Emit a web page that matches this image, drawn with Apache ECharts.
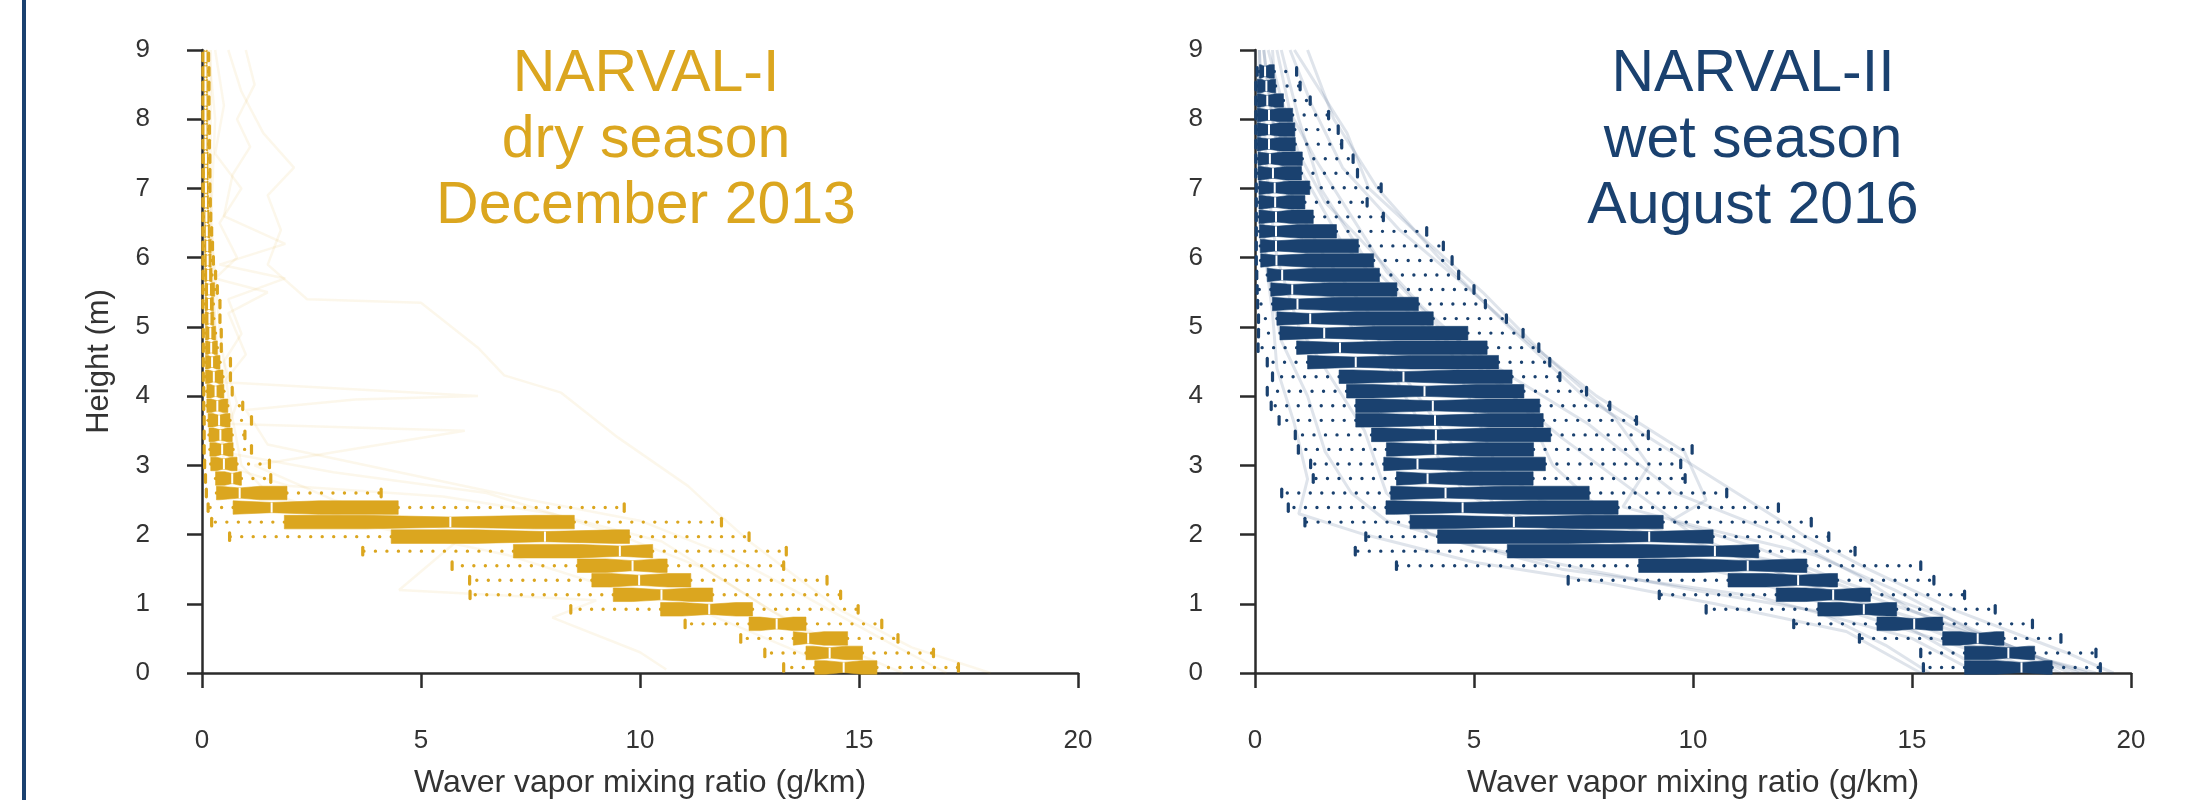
<!DOCTYPE html>
<html>
<head>
<meta charset="utf-8">
<script src="https://cdn.jsdelivr.net/npm/echarts@6/dist/echarts.min.js"></script>
<style>
html,body{margin:0;padding:0;background:#fff;}
#chart{width:2189px;height:800px;}
</style>
</head>
<body>
<div id="chart"></div>
<script>
// ---------- DATA ----------
const heights = [0.08,0.29,0.50,0.71,0.92,1.13,1.34,1.55,1.76,1.97,2.18,2.39,2.60,2.81,3.02,3.23,3.44,3.65,3.86,4.07,4.28,4.49,4.70,4.91,5.12,5.33,5.54,5.75,5.96,6.17,6.38,6.59,6.80,7.01,7.22,7.43,7.64,7.85,8.06,8.27,8.48,8.69,8.90];
const xTicks = [0,5,10,15,20];
const yTicks = [0,1,2,3,4,5,6,7,8,9];

// NARVAL-I (dry season) per height bin
const n1Low = [13.28,12.85,12.3,11.03,8.42,6.12,6.11,5.71,3.67,0.63,0.22,0.14,0.10,0.08,0.06,0.05,0.05,0.05,0.04,0.04,0.03,0.03,0.03,0.03,0.03,0.02,0.02,0.02,0.02,0.02,0.02,0.02,0.02,0.02,0.02,0.02,0.02,0.02,0.02,0.02,0.02,0.02,0.02];
const n1Q1  = [13.99,13.79,13.5,12.49,10.47,9.39,8.9,8.57,7.11,4.32,1.88,0.71,0.33,0.31,0.20,0.18,0.16,0.14,0.11,0.11,0.08,0.08,0.08,0.08,0.07,0.07,0.07,0.06,0.06,0.06,0.06,0.06,0.05,0.05,0.05,0.05,0.05,0.05,0.05,0.05,0.05,0.05,0.05];
const n1Med = [14.65,14.33,13.84,13.12,11.58,10.49,9.98,9.83,9.54,7.83,5.67,1.59,0.86,0.69,0.50,0.46,0.42,0.39,0.35,0.31,0.27,0.23,0.21,0.19,0.17,0.16,0.16,0.14,0.13,0.12,0.11,0.10,0.09,0.09,0.09,0.09,0.08,0.08,0.08,0.08,0.08,0.08,0.08];
const n1Q3  = [15.41,15.08,14.74,13.79,12.57,11.66,11.16,10.62,10.29,9.76,8.5,4.48,1.94,0.90,0.80,0.71,0.69,0.64,0.59,0.50,0.48,0.41,0.35,0.31,0.27,0.26,0.29,0.23,0.21,0.21,0.18,0.16,0.15,0.14,0.14,0.14,0.13,0.13,0.13,0.13,0.13,0.12,0.12];
const n1High= [17.27,16.7,15.89,15.52,14.98,14.58,14.27,13.28,13.34,12.49,11.86,9.64,4.09,1.57,1.54,1.13,0.98,1.13,0.93,0.69,0.65,0.65,0.44,0.44,0.41,0.41,0.35,0.31,0.26,0.24,0.22,0.20,0.19,0.18,0.18,0.18,0.17,0.17,0.16,0.16,0.16,0.16,0.15];

// NARVAL-II (wet season) per height bin
const n2Low = [15.26,15.2,13.8,12.3,10.3,9.23,7.15,3.23,2.29,2.53,1.14,0.76,0.61,1.33,1.27,0.99,0.92,0.55,0.37,0.28,0.40,0.28,0.07,0.08,0.08,0.06,0.05,0.04,0.03,0.03,0.03,0.03,0.03,0.03,0.02,0.02,0.02,0.02,0.02,0.02,0.02,0.05];
const n2Q1  = [16.2,16.2,15.7,14.2,12.85,11.9,10.8,8.76,5.76,4.17,3.54,2.99,3.10,3.23,2.94,3.00,2.66,2.30,2.30,2.09,1.92,1.20,0.95,0.57,0.50,0.40,0.36,0.28,0.13,0.12,0.10,0.09,0.09,0.09,0.07,0.07,0.05,0.05,0.05,0.05,0.05,0.10];
const n2Med = [17.5,17.2,16.5,15.05,13.9,13.2,12.4,11.25,10.5,9.0,5.91,4.74,4.35,3.94,3.71,4.12,4.13,4.11,4.06,3.87,3.39,2.30,1.94,1.58,1.26,0.97,0.85,0.62,0.49,0.48,0.48,0.48,0.46,0.45,0.41,0.34,0.32,0.32,0.32,0.28,0.26,0.23];
const n2Q3  = [18.2,17.8,17.1,15.7,14.65,14.05,13.3,12.6,11.5,10.46,9.32,8.29,7.63,6.35,6.63,6.36,6.75,6.58,6.50,6.14,5.87,5.56,5.30,4.86,4.07,3.73,3.24,2.84,2.71,2.36,1.86,1.33,1.14,1.25,1.06,1.08,0.92,0.91,0.86,0.65,0.47,0.44];
const n2High= [19.3,19.2,18.4,17.75,16.9,16.2,15.5,15.2,13.7,13.1,12.7,11.95,10.77,9.82,9.72,9.98,8.98,8.71,8.10,7.57,6.96,6.73,6.48,6.12,5.74,5.26,5.00,4.65,4.50,4.30,3.92,2.93,2.56,2.88,2.34,2.24,1.98,1.90,1.68,1.26,1.03,0.95];

// Individual profiles (faint background lines), [mixing ratio, height]
const n1Profiles = [
  [[0.6,9.0],[0.9,8.4],[1.4,7.8],[2.1,7.3],[1.5,6.9],[1.8,6.4],[1.5,5.9],[2.4,5.4],[5.0,5.35],[6.3,4.7],[6.9,4.3],[8.2,4.05],[9.5,3.4],[11.1,2.7],[11.7,2.35],[12.5,1.9],[14.6,0.9],[16.2,0.37],[18.0,0.0]],
  [[0.3,9.0],[0.5,8.2],[0.3,7.5],[0.9,7.0],[0.4,6.5],[0.8,6.0],[0.3,5.7],[1.5,5.5],[0.6,5.2],[1.0,4.6],[0.5,4.2],[6.3,4.0],[3.5,3.95],[1.0,3.8],[1.5,3.3],[4.5,2.9],[7.5,2.5],[10.0,2.2],[12.0,1.7],[13.5,1.2],[15.5,0.5],[17.0,0.0]],
  [[1.0,9.0],[1.2,8.5],[0.8,8.0],[1.1,7.6],[0.7,7.2],[0.5,6.6],[1.9,6.2],[0.4,5.9],[1.9,5.7],[0.6,5.4],[0.9,4.9],[0.5,4.5],[0.8,3.9],[0.4,3.2],[3.0,2.9],[6.5,2.6],[9.5,2.0],[11.5,1.5],[13.0,0.9],[14.5,0.4],[16.0,0.0]],
  [[0.2,9.0],[0.2,7.0],[0.3,5.0],[0.5,3.6],[6.0,3.5],[1.2,3.0],[3.0,2.5],[6.0,2.0],[4.5,1.2],[9.0,1.05],[8.0,0.8],[10.0,0.3],[10.6,0.05]],
  [[0.1,9.0],[0.2,6.0],[0.5,3.0],[2.0,2.7],[5.5,2.55],[8.0,2.3],[10.5,1.9],[12.0,1.3],[13.5,0.7],[15.0,0.2],[15.5,0.0]],
  [[0.15,9.0],[0.3,8.0],[0.2,6.5],[0.4,5.0],[0.6,4.0],[0.9,3.0],[1.5,2.6],[4.0,2.1],[7.0,1.7],[9.0,1.3],[11.0,1.0],[12.5,0.6],[14.0,0.2],[14.5,0.0]]
];
const n2Profiles = [
  [[0.6,9.0],[1.0,8.0],[1.5,7.0],[2.5,6.0],[4.0,5.0],[5.5,4.2],[7.0,3.4],[8.5,2.7],[10.0,2.0],[12.5,1.3],[15.5,0.7],[17.5,0.3],[19.0,0.0]],
  [[0.2,9.0],[0.4,8.0],[0.7,7.0],[1.2,6.0],[2.2,5.0],[3.5,4.2],[4.5,3.3],[5.5,2.4],[7.5,1.9],[11.0,1.4],[14.0,0.8],[16.5,0.3],[17.8,0.0]],
  [[0.1,9.0],[0.2,8.0],[0.3,7.0],[0.5,6.0],[1.0,5.0],[1.8,4.2],[2.5,3.5],[3.0,2.6],[4.0,2.0],[7.0,1.5],[11.5,1.1],[15.0,0.5],[16.5,0.0]],
  [[1.2,9.0],[1.8,8.0],[2.8,7.0],[4.2,6.0],[5.8,5.0],[7.5,4.0],[9.5,3.2],[11.0,2.6],[12.5,2.0],[14.0,1.5],[16.0,0.9],[18.5,0.3],[19.6,0.0]],
  [[0.3,9.0],[0.6,8.3],[1.0,7.5],[1.6,6.8],[2.8,6.0],[3.8,5.3],[5.0,4.6],[6.2,3.8],[6.8,3.0],[8.0,2.3],[10.5,1.8],[13.0,1.2],[15.5,0.6],[18.0,0.0]],
  [[0.1,9.0],[0.1,7.5],[0.2,6.2],[0.4,5.2],[0.5,4.4],[0.9,3.6],[1.2,2.8],[1.0,2.3],[2.5,2.0],[5.0,1.6],[8.0,1.3],[10.5,1.0],[13.5,0.6],[15.2,0.0]],
  [[0.8,9.0],[1.3,8.2],[2.0,7.3],[3.3,6.4],[4.8,5.6],[6.2,4.8],[7.8,4.0],[9.8,3.2],[10.3,2.5],[9.5,2.2],[11.5,1.8],[13.5,1.3],[15.8,0.8],[17.2,0.4],[18.6,0.0]],
  [[0.4,9.0],[0.5,8.0],[1.1,7.2],[2.0,6.2],[3.2,5.4],[4.5,4.6],[5.0,3.8],[5.5,3.0],[6.5,2.5],[9.0,2.0],[12.0,1.6],[14.5,1.0],[16.8,0.5],[18.8,0.0]],
  [[0.5,9.0],[0.8,8.1],[1.4,7.4],[2.2,6.6],[3.0,5.8],[4.2,5.0],[5.8,4.3],[7.6,3.6],[8.8,3.0],[9.6,2.6],[12.0,2.0],[13.8,1.4],[15.0,0.9],[17.0,0.4],[18.4,0.0]],
  [[0.2,9.0],[0.3,8.4],[0.5,7.6],[0.9,6.8],[1.6,6.0],[2.6,5.2],[3.0,4.5],[3.6,3.8],[4.2,3.1],[4.8,2.6],[6.0,2.2],[9.5,1.7],[12.5,1.2],[14.8,0.7],[16.2,0.2],[16.8,0.0]],
  [[0.9,9.0],[1.4,8.5],[2.1,7.8],[2.6,7.0],[3.8,6.3],[5.2,5.5],[6.6,4.6],[8.2,3.7],[9.0,3.0],[8.4,2.4],[10.2,2.1],[12.8,1.7],[14.6,1.2],[16.4,0.6],[18.0,0.2],[19.2,0.0]],
  [[0.0,9.0],[0.1,8.0],[0.1,7.0],[0.3,5.8],[0.6,4.8],[1.2,4.0],[1.6,3.2],[2.2,2.6],[3.0,2.2],[4.6,1.9],[7.5,1.5],[10.0,1.2],[12.8,0.9],[14.4,0.4],[15.4,0.0]]
];

// ---------- STYLE ----------
const GOLD = '#DBA61F';
const NAVY = '#1A416F';
const FONT = '"Liberation Sans", Arial, sans-serif';
const ROW_STEP = 0.21;

function rows(lo, q1, md, q3, hi, n) {
  const out = [];
  for (let i = 0; i < n; i++) out.push([lo[i], q1[i], md[i], q3[i], hi[i], heights[i]]);
  return out;
}

function makeRender(color) {
  return function (params, api) {
    const lo = api.value(0), q1 = api.value(1), md = api.value(2), q3 = api.value(3), hi = api.value(4), h = api.value(5);
    const half = Math.abs(api.size([0, ROW_STEP])[1]) * 0.465;
    const pLo = api.coord([lo, h]), pQ1 = api.coord([q1, h]), pMd = api.coord([md, h]), pQ3 = api.coord([q3, h]), pHi = api.coord([hi, h]);
    const nw = 0.29 * (q3 - q1);
    const nl = api.coord([Math.max(q1, md - nw), h])[0];
    const nr = api.coord([Math.min(q3, md + nw), h])[0];
    const y = pMd[1];
    const ind = half * 0.25;
    const children = [];
    const dot = { stroke: color, lineWidth: 3.4, lineDash: [0, 11.5], lineCap: 'round' };
    children.push({ type: 'line', shape: { x1: pQ1[0], y1: y, x2: pLo[0], y2: y }, style: dot });
    children.push({ type: 'line', shape: { x1: pQ3[0], y1: y, x2: pHi[0], y2: y }, style: dot });
    children.push({ type: 'line', shape: { x1: pLo[0], y1: y - 3.8, x2: pLo[0], y2: y + 3.8 }, style: { stroke: color, lineWidth: 3.2, lineCap: 'round' } });
    children.push({ type: 'line', shape: { x1: pHi[0], y1: y - 3.8, x2: pHi[0], y2: y + 3.8 }, style: { stroke: color, lineWidth: 3.2, lineCap: 'round' } });
    children.push({
      type: 'polygon',
      shape: { points: [
        [pQ1[0], y - half], [nl, y - half], [pMd[0], y - half + ind], [nr, y - half], [pQ3[0], y - half],
        [pQ3[0], y + half], [nr, y + half], [pMd[0], y + half - ind], [nl, y + half], [pQ1[0], y + half]
      ] },
      style: { fill: color, stroke: color, lineWidth: 0.6 }
    });
    children.push({ type: 'line', shape: { x1: pMd[0], y1: y - half + ind, x2: pMd[0], y2: y + half - ind }, style: { stroke: '#ffffff', lineWidth: 2 } });
    return { type: 'group', children: children };
  };
}

function xAxisCfg(gi, showName) {
  return {
    type: 'value', gridIndex: gi, min: 0, max: 20, interval: 5, offset: 15,
    axisLine: { show: true, lineStyle: { color: '#2b2b2b', width: 2.5 } },
    axisTick: { show: true, length: 15, lineStyle: { color: '#2b2b2b', width: 2.5 } },
    axisLabel: { fontSize: 26, color: '#333', fontFamily: FONT, margin: 40, formatter: v => String(v) },
    splitLine: { show: false },
    name: showName, nameLocation: 'middle', nameGap: 79,
    nameTextStyle: { fontSize: 32, color: '#333', fontFamily: FONT }
  };
}
function yAxisCfg(gi, name) {
  return {
    type: 'value', gridIndex: gi, min: 0, max: 9, interval: 1, offset: 15,
    axisLine: { show: true, lineStyle: { color: '#2b2b2b', width: 2.5 } },
    axisTick: { show: true, length: 15, lineStyle: { color: '#2b2b2b', width: 2.5 } },
    axisLabel: { fontSize: 26, color: '#333', fontFamily: FONT, margin: 37 },
    splitLine: { show: false },
    name: name, nameLocation: 'middle', nameGap: 72, nameRotate: 90,
    nameTextStyle: { fontSize: 31, color: '#333', fontFamily: FONT }
  };
}

const series = [];
n1Profiles.forEach(p => series.push({
  type: 'line', xAxisIndex: 0, yAxisIndex: 0, data: p, showSymbol: false, silent: true, z: 1,
  lineStyle: { color: 'rgba(219,166,31,0.09)', width: 2.5 }
}));
n2Profiles.forEach(p => series.push({
  type: 'line', xAxisIndex: 1, yAxisIndex: 1, data: p, showSymbol: false, silent: true, z: 1,
  lineStyle: { color: 'rgba(26,65,111,0.14)', width: 3 }
}));
series.push({
  type: 'custom', xAxisIndex: 0, yAxisIndex: 0, z: 5, silent: true,
  renderItem: makeRender(GOLD),
  encode: { x: [0, 1, 2, 3, 4], y: 5 },
  data: rows(n1Low, n1Q1, n1Med, n1Q3, n1High, n1Low.length)
});
series.push({
  type: 'custom', xAxisIndex: 1, yAxisIndex: 1, z: 5, silent: true,
  renderItem: makeRender(NAVY),
  encode: { x: [0, 1, 2, 3, 4], y: 5 },
  data: rows(n2Low, n2Q1, n2Med, n2Q3, n2High, n2Low.length)
});

const chart = echarts.init(document.getElementById('chart'), null, { renderer: 'canvas' });
chart.setOption({
  backgroundColor: '#ffffff',
  animation: false,
  grid: [
    { left: 202, top: 50, width: 876, height: 623, containLabel: false, outerBoundsMode: 'none' },
    { left: 1255, top: 50, width: 876, height: 623, containLabel: false, outerBoundsMode: 'none' }
  ],
  xAxis: [xAxisCfg(0, 'Waver vapor mixing ratio (g/km)'), xAxisCfg(1, 'Waver vapor mixing ratio (g/km)')],
  yAxis: [yAxisCfg(0, 'Height (m)'), yAxisCfg(1, '')],
  graphic: [
    { type: 'rect', shape: { x: 22, y: 0, width: 4, height: 800 }, style: { fill: NAVY }, z: 10 },
    { type: 'text', x: 646, y: 42, style: { text: 'NARVAL-I\ndry season\nDecember 2013', fill: GOLD, font: '59px ' + FONT, textAlign: 'center', lineHeight: 66 }, z: 10 },
    { type: 'text', x: 1753, y: 42, style: { text: 'NARVAL-II\nwet season\nAugust 2016', fill: NAVY, font: '59px ' + FONT, textAlign: 'center', lineHeight: 66 }, z: 10 }
  ],
  series: series
});
</script>
</body>
</html>
